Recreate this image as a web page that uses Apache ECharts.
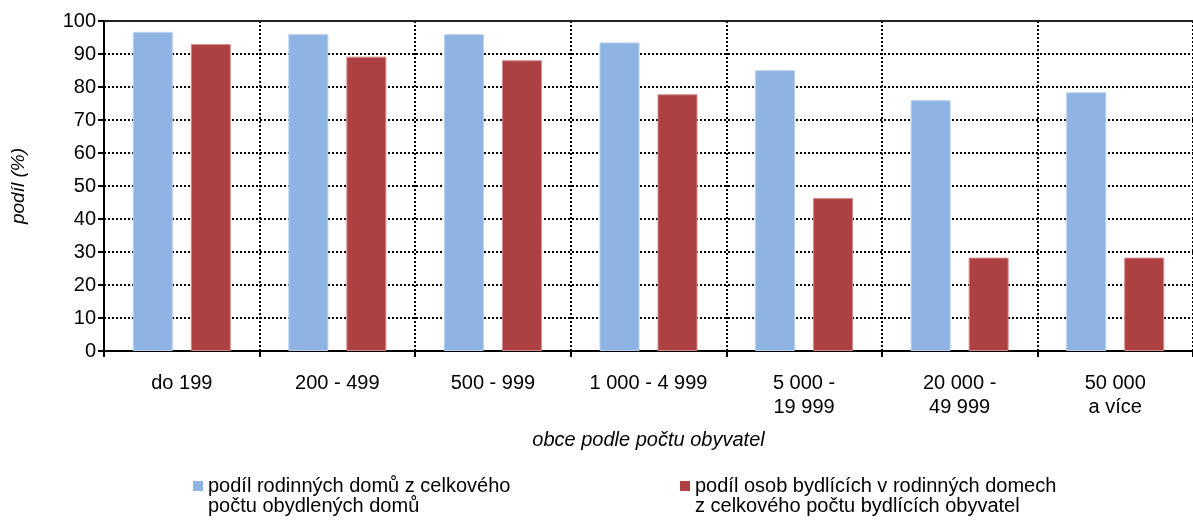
<!DOCTYPE html>
<html>
<head>
<meta charset="utf-8">
<script src="https://cdn.jsdelivr.net/npm/echarts@6/dist/echarts.min.js"></script>
<style>
  html, body { margin: 0; padding: 0; background: #fff; }
  #graphArea { width: 1193px; height: 520px; }
</style>
</head>
<body>
<div id="graphArea"></div>
<script>
// kategorie obcí
var categories = ['do 199', '200 - 499', '500 - 999', '1 000 - 4 999', '5 000 -\n19 999', '20 000 -\n49 999', '50 000\na více'];
var nameHouses = 'podíl rodinných domů z celkového\npočtu obydlených domů';
var namePeople = 'podíl osob bydlících v rodinných domech\nz celkového počtu bydlících obyvatel';
var shareHouses = [96.7, 96.0, 96.0, 93.5, 85.1, 76.0, 78.4];
var sharePeople = [93.0, 89.2, 88.1, 77.8, 46.4, 28.3, 28.3];
var yTicks = [0, 100, 10];

var font = 'Liberation Sans, Arial, sans-serif';
var myChart = echarts.init(document.getElementById('graphArea'));

// ikonka legendy: čtverec nahoře, prázdné místo dole (aby seděla k prvnímu řádku)
var legendIcon = 'path://M0,0L10,0L10,10L0,10Z M0,30L0,30Z';
var legendText = { fontFamily: font, fontSize: 20, color: '#000', lineHeight: 20 };
var dotted = { color: '#000', width: 2, type: [2, 2] };

myChart.setOption({
  animation: false,
  grid: { left: 104, top: 21, right: -11, bottom: 169 },
  legend: [
    {
      data: [nameHouses], left: 193, top: 476, padding: 0,
      itemWidth: 10, itemHeight: 30, icon: legendIcon,
      itemStyle: { borderWidth: 0 },
      textStyle: legendText
    },
    {
      data: [namePeople], left: 680, top: 476, padding: 0,
      itemWidth: 10, itemHeight: 30, icon: legendIcon,
      itemStyle: { borderWidth: 0 },
      textStyle: legendText
    }
  ],
  xAxis: [
    {
      type: 'category',
      data: categories,
      name: 'obce podle počtu obyvatel',
      nameLocation: 'middle',
      nameGap: 79,
      nameTextStyle: { fontFamily: font, fontSize: 20, fontStyle: 'italic', color: '#000' },
      axisLine: { lineStyle: { color: '#000', width: 2 } },
      axisTick: { show: true, length: 6, lineStyle: { color: '#000', width: 2 } },
      axisLabel: { fontFamily: font, fontSize: 20, color: '#000', lineHeight: 24, margin: 20 },
      splitLine: { show: true, lineStyle: dotted }
    },
    {
      type: 'category',
      data: categories,
      position: 'top',
      axisLine: { lineStyle: { color: '#222', width: 2 } },
      axisTick: { show: false },
      axisLabel: { show: false }
    }
  ],
  yAxis: {
    type: 'value',
    min: yTicks[0],
    max: yTicks[1],
    interval: yTicks[2],
    name: 'podíl (%)',
    nameLocation: 'middle',
    nameGap: 76,
    nameTextStyle: { fontFamily: font, fontSize: 19, fontStyle: 'italic', color: '#000' },
    axisLine: { show: true, lineStyle: { color: '#000', width: 2 } },
    axisTick: { show: true, length: 6, lineStyle: { color: '#000', width: 2 } },
    axisLabel: { fontFamily: font, fontSize: 20, color: '#000', margin: 8 },
    splitLine: { show: true, lineStyle: dotted }
  },
  series: [
    {
      name: nameHouses,
      type: 'bar',
      data: shareHouses,
      barWidth: 40,
      barGap: '45%',
      itemStyle: { color: '#8EB4E3', borderColor: '#B8D0EE', borderWidth: 1 }
    },
    {
      name: namePeople,
      type: 'bar',
      data: sharePeople,
      barWidth: 40,
      itemStyle: { color: '#AD4040', borderColor: '#D48C8C', borderWidth: 1 }
    }
  ]
});
</script>
</body>
</html>
